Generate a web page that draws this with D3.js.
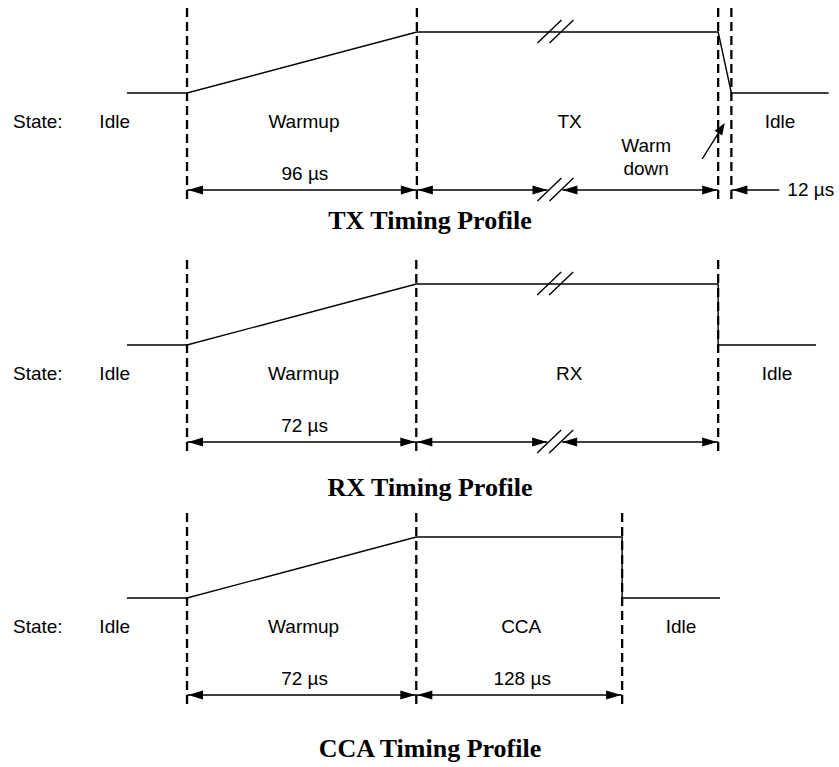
<!DOCTYPE html>
<html>
<head>
<meta charset="utf-8">
<script src="https://cdn.jsdelivr.net/npm/d3@7"></script>
<style>
  body { margin: 0; background: #fff; }
  text { font-family: "Liberation Sans", Arial, sans-serif; font-size: 19px; fill: #000; }
  .title { font-family: "Liberation Serif", "Times New Roman", serif; font-weight: bold; font-size: 26px; }
</style>
</head>
<body>
<svg id="chart"></svg>
<script>
// timing profile data (spans are schematic widths, not to scale)
var titles = ["TX Timing Profile", "RX Timing Profile", "CCA Timing Profile"];

var txStates = ["Idle", "Warmup", "TX", "", "Idle"];
var rxStates = ["Idle", "Warmup", "RX", "Idle"];
var ccaStates = ["Idle", "Warmup", "CCA", "Idle"];

var txSpans = [1, 3.83, 5.02, 0.22, 1.62];
var rxSpans = [1, 3.82, 5.03, 1.63];
var ccaSpans = [1, 3.82, 3.43, 1.63];

// signal path as [boundary, level]
var txPath = [[0, 0], [1, 0], [2, 1], [3, 1], [4, 0], [5, 0]];
var rxPath = [[0, 0], [1, 0], [2, 1], [3, 1], [3, 0], [4, 0]];
var ccaPath = [[0, 0], [1, 0], [2, 1], [3, 1], [3, 0], [4, 0]];

var txMarkers = [1, 2, 3, 4];
var rxMarkers = [1, 2, 3];
var ccaMarkers = [1, 2, 3];

var txDims = [{from: 1, to: 2, label: "96 µs"}, {from: 2, to: 3, broken: true}, {from: 4, label: "12 µs", outside: true}];
var rxDims = [{from: 1, to: 2, label: "72 µs"}, {from: 2, to: 3, broken: true}];
var ccaDims = [{from: 1, to: 2, label: "72 µs"}, {from: 2, to: 3, label: "128 µs"}];

var txBreaks = [2];
var rxBreaks = [2];
var ccaBreaks = [];

var profiles = [
  {title: titles[0], states: txStates, spans: txSpans, path: txPath, markers: txMarkers, dims: txDims, breaks: txBreaks, note: ["Warm", "down"]},
  {title: titles[1], states: rxStates, spans: rxSpans, path: rxPath, markers: rxMarkers, dims: rxDims, breaks: rxBreaks},
  {title: titles[2], states: ccaStates, spans: ccaSpans, path: ccaPath, markers: ccaMarkers, dims: ccaDims, breaks: ccaBreaks}
];

var width = 839, height = 767;
var panelTops = [8, 260, 513];
var titleOffsets = [221, 236, 244];

var svg = d3.select("#chart").attr("width", width).attr("height", height);

var x = d3.scaleLinear().domain([0, 11.68]).range([127, 828]);

function arrowHead(g, tx, ty, dir, len, half) {
  // dir: 1 points right, -1 points left
  g.append("path")
    .attr("d", "M" + tx + "," + ty + "L" + (tx - dir * len) + "," + (ty - half) + "L" + (tx - dir * len) + "," + (ty + half) + "Z")
    .attr("fill", "#000");
}

function slashes(g, cx, cy) {
  [-6, 6].forEach(function (o) {
    g.append("line")
      .attr("x1", cx + o - 12).attr("y1", cy + 11)
      .attr("x2", cx + o + 12).attr("y2", cy - 12)
      .attr("stroke", "#000").attr("stroke-width", 1.4);
  });
}

profiles.forEach(function (p, i) {
  var top = panelTops[i];
  var g = svg.append("g");
  var bounds = [0].concat(Array.from(d3.cumsum(p.spans)));
  var y = d3.scaleLinear().domain([0, 1]).range([top + 85, top + 24]);
  var bx = function (b) { return x(bounds[b]); };

  // dashed markers
  g.selectAll("line.marker")
    .data(p.markers)
    .enter().append("line")
    .attr("class", "marker")
    .attr("x1", bx).attr("x2", bx)
    .attr("y1", top).attr("y2", top + 194)
    .attr("stroke", "#000")
    .attr("stroke-width", 2.3)
    .attr("stroke-dasharray", "9,5");

  // signal
  var line = d3.line()
    .x(function (d) { return bx(d[0]); })
    .y(function (d) { return y(d[1]); });
  g.append("path")
    .datum(p.path)
    .attr("d", line)
    .attr("fill", "none")
    .attr("stroke", "#000")
    .attr("stroke-width", 1.4);

  p.breaks.forEach(function (s) {
    var cx = bx(s) + (bx(s + 1) - bx(s)) * 0.46;
    slashes(g, cx, y(1));
  });

  // state labels
  g.append("text").attr("x", 13).attr("y", top + 120).text("State:");
  p.states.forEach(function (s, k) {
    if (!s) return;
    var t = g.append("text").attr("y", top + 120).text(s);
    if (k === 0) {
      t.attr("x", bx(0) + 3).attr("text-anchor", "end");
    } else {
      var shift = 2;
      if (k === p.states.length - 1) shift = p.states[k - 1] ? 10 : 0;
      t.attr("x", (bx(k) + bx(k + 1)) / 2 + shift).attr("text-anchor", "middle");
    }
  });

  // dimension lines
  var dy = top + 182;
  p.dims.forEach(function (d) {
    if (d.outside) {
      var xa = bx(d.from);
      g.append("line").attr("x1", xa).attr("x2", xa + 48).attr("y1", dy).attr("y2", dy)
        .attr("stroke", "#000").attr("stroke-width", 1.4);
      arrowHead(g, xa + 1, dy, -1, 15, 4.5);
      g.append("text").attr("x", xa + 56).attr("y", dy + 6).text(d.label);
      return;
    }
    var x0 = bx(d.from), x1 = bx(d.to);
    if (d.broken) {
      var cx = x0 + (x1 - x0) * 0.46;
      g.append("line").attr("x1", x0).attr("x2", cx - 8).attr("y1", dy).attr("y2", dy)
        .attr("stroke", "#000").attr("stroke-width", 1.4);
      g.append("line").attr("x1", cx + 7).attr("x2", x1).attr("y1", dy).attr("y2", dy)
        .attr("stroke", "#000").attr("stroke-width", 1.4);
      arrowHead(g, x0 + 1, dy, -1, 15, 4.5);
      arrowHead(g, cx - 8, dy, 1, 15, 4.5);
      arrowHead(g, cx + 7, dy, -1, 15, 4.5);
      arrowHead(g, x1 - 1, dy, 1, 15, 4.5);
      slashes(g, cx, dy);
      return;
    }
    g.append("line").attr("x1", x0).attr("x2", x1).attr("y1", dy).attr("y2", dy)
      .attr("stroke", "#000").attr("stroke-width", 1.4);
    arrowHead(g, x0 + 1, dy, -1, 15, 4.5);
    arrowHead(g, x1 - 1, dy, 1, 15, 4.5);
    g.append("text")
      .attr("x", (x0 + x1) / 2 + 3)
      .attr("y", top + 172)
      .attr("text-anchor", "middle")
      .text(d.label);
  });

  // warm down callout
  if (p.note) {
    var xm = (bx(3) + bx(4)) / 2;
    g.append("text").attr("x", bx(3) - 72).attr("y", top + 144).attr("text-anchor", "middle").text(p.note[0]);
    g.append("text").attr("x", bx(3) - 72).attr("y", top + 167).attr("text-anchor", "middle").text(p.note[1]);
    var tx = xm, ty = top + 115, fx = bx(3) - 16, fy = top + 151;
    var ang = Math.atan2(ty - fy, tx - fx);
    g.append("line").attr("x1", fx).attr("y1", fy)
      .attr("x2", tx - 10 * Math.cos(ang)).attr("y2", ty - 10 * Math.sin(ang))
      .attr("stroke", "#000").attr("stroke-width", 1.4);
    var h = 12, w = 4.5;
    var bxp = tx - h * Math.cos(ang), byp = ty - h * Math.sin(ang);
    g.append("path")
      .attr("d", "M" + tx + "," + ty +
        "L" + (bxp + w * Math.sin(ang)) + "," + (byp - w * Math.cos(ang)) +
        "L" + (bxp - w * Math.sin(ang)) + "," + (byp + w * Math.cos(ang)) + "Z")
      .attr("fill", "#000");
  }

  // title
  svg.append("text")
    .attr("class", "title")
    .attr("x", 430)
    .attr("y", top + titleOffsets[i])
    .attr("text-anchor", "middle")
    .text(p.title);
});
</script>
</body>
</html>
